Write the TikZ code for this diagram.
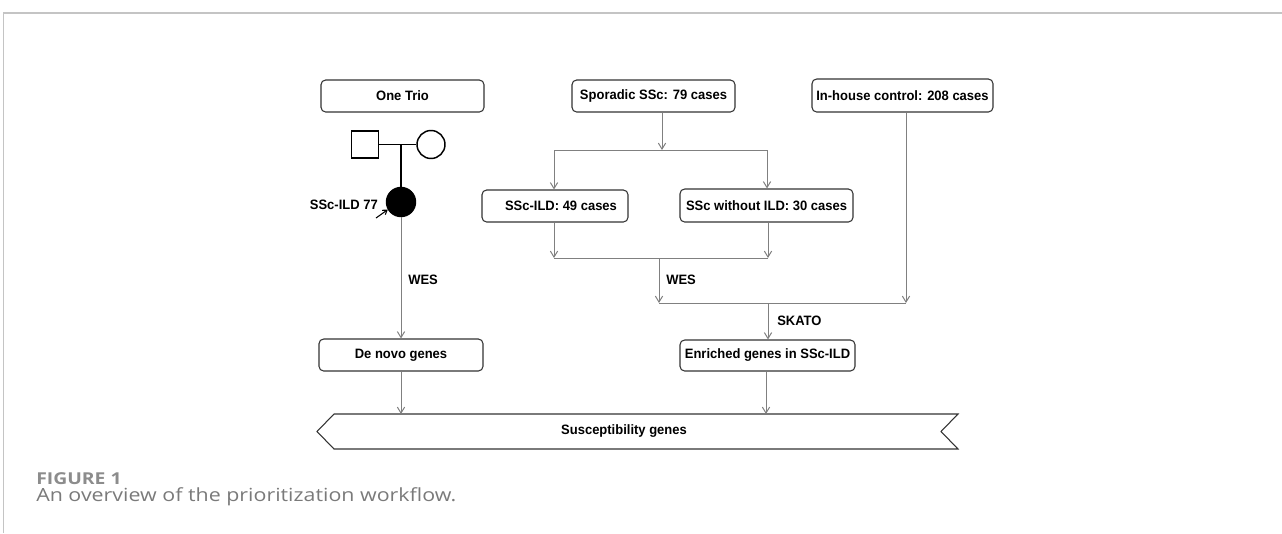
\documentclass[tikz,border=0pt]{standalone}
\usepackage{fontspec}
\setmainfont{Liberation Sans}[FakeStretch=0.955]
\newfontfamily\capfont{Open Sans}[FakeStretch=1.18]
\usetikzlibrary{arrows.meta}
\definecolor{linegray}{HTML}{808080}
\definecolor{boxline}{HTML}{333333}
\definecolor{capgray}{HTML}{7A7A7A}
\definecolor{figgray}{HTML}{8C8C8C}
\definecolor{framegray}{HTML}{C4C4C4}
\newcommand{\pxu}{0.75pt}
\begin{document}
\begin{tikzpicture}[x=0.75pt,y=-0.75pt,
 box/.style={draw=boxline,line width=0.8pt,rounded corners=3.5pt,font=\fontsize{10.2}{12}\selectfont\bfseries,inner sep=0pt,align=center},
 arr/.style={draw=linegray,line width=0.75pt,-{Straight Barb[length=4.5pt,width=5.5pt]}},
 conn/.style={draw=linegray,line width=0.75pt},
 ped/.style={draw=black,line width=1.1pt},
 lab/.style={font=\fontsize{10.2}{12}\selectfont\bfseries,inner sep=0pt}]
\useasboundingbox (0,0) rectangle (1282,533);
% frame
\draw[framegray,line width=0.8pt] (3.5,533) -- (3.5,13) -- (1282,13);

% boxes
\node[box,minimum width=163*\pxu,minimum height=32*\pxu] (trio) at (402.5,96) {One Trio};
\node[box,minimum width=163*\pxu,minimum height=32*\pxu] (sporadic) at (653.5,96) {Sporadic SSc: 79 cases};
\node[box,minimum width=181*\pxu,minimum height=33*\pxu] (inhouse) at (902.5,95.5) {In-house control: 208 cases};
\node[box,minimum width=146*\pxu,minimum height=32*\pxu] (sscild) at (555,206) {\hspace*{9pt}SSc-ILD: 49 cases};
\node[box,minimum width=173*\pxu,minimum height=33*\pxu] (sscwo) at (766.5,205.5) {SSc without ILD: 30 cases};
\node[box,minimum width=164*\pxu,minimum height=32*\pxu] (denovo) at (401,355) {De novo genes};
\node[box,minimum width=175*\pxu,minimum height=31*\pxu] (enriched) at (767.5,355.5) {Enriched genes in SSc-ILD};

% susceptibility banner
\coordinate (sTL) at (334,414);
\coordinate (sTR) at (958,414);
\coordinate (sNR) at (941,431.5);
\coordinate (sBR) at (958,449);
\coordinate (sBL) at (334,449);
\coordinate (sPL) at (317,431.5);
\draw[boxline,line width=0.8pt] (sTL) -- (sTR) -- (sNR) -- (sBR) -- (sBL) -- (sPL) -- cycle;
\node[lab] (susc) at (624,431.5) {Susceptibility genes};

% pedigree
\node[ped,minimum size=27*\pxu,inner sep=0pt] (father) at (365,144.5) {};
\node[ped,circle,minimum size=28*\pxu,inner sep=0pt] (mother) at (431,144.5) {};
\node[ped,circle,fill=black,minimum size=29*\pxu,inner sep=0pt] (proband) at (401,202) {};
\draw[ped] (father.east) -- (mother.west);
\coordinate (mate) at (401,144.5);
\draw[ped] (mate) -- (proband.north);
\node[lab,anchor=east] (plabel) at (378,205) {SSc-ILD 77};
\coordinate (parrow) at (376,218);
\draw[black,line width=0.8pt,-{Straight Barb[length=3pt,width=4pt]}] (parrow) -- (proband.-150);

% left branch
\draw[arr] (proband.south) -- (denovo.north);
\node[lab,anchor=west] (wes1) at (408,280) {WES};
\draw[arr] (denovo.south) -- (denovo.south |- sTL);

% middle branch
\coordinate (split1) at (662,150);
\coordinate (splitL) at (554,150);
\coordinate (splitR) at (767,150);
\draw[arr] (sporadic.south -| split1) -- (split1);
\draw[conn] (splitL) -- (splitR);
\draw[arr] (splitL) -- (splitL |- sscild.north);
\draw[arr] (splitR) -- (splitR |- sscwo.north);

\coordinate (joinL) at (554,258);
\coordinate (joinR) at (768,258);
\draw[arr] (sscild.south -| joinL) -- (joinL);
\draw[arr] (sscwo.south -| joinR) -- (joinR);
\draw[conn] (joinL) -- (joinR);
\coordinate (wesTop) at (659,258);
\coordinate (wesEnd) at (659,303);
\draw[arr] (wesTop) -- (wesEnd);
\node[lab,anchor=west] (wes2) at (666,280) {WES};

\coordinate (ctrlEnd) at (906,303);
\draw[arr] (inhouse.south -| ctrlEnd) -- (ctrlEnd);
\draw[conn] (wesEnd) -- (ctrlEnd);
\coordinate (skTop) at (768,303);
\draw[arr] (skTop) -- (skTop |- enriched.north);
\node[lab,anchor=west] (skato) at (777,321) {SKATO};
\coordinate (enrBot) at (766,414);
\draw[arr] (enriched.south -| enrBot) -- (enrBot);

% caption
\node[anchor=base west,inner sep=0pt,font=\capfont\fontsize{12.3}{14}\selectfont\bfseries,text=figgray] (figlab) at (36,484) {FIGURE 1};
\node[anchor=base west,inner sep=0pt,font=\capfont\fontsize{13.6}{16}\selectfont,text=capgray] (caption) at (36,501) {An overview of the prioritization workflow.};
\end{tikzpicture}
\end{document}
